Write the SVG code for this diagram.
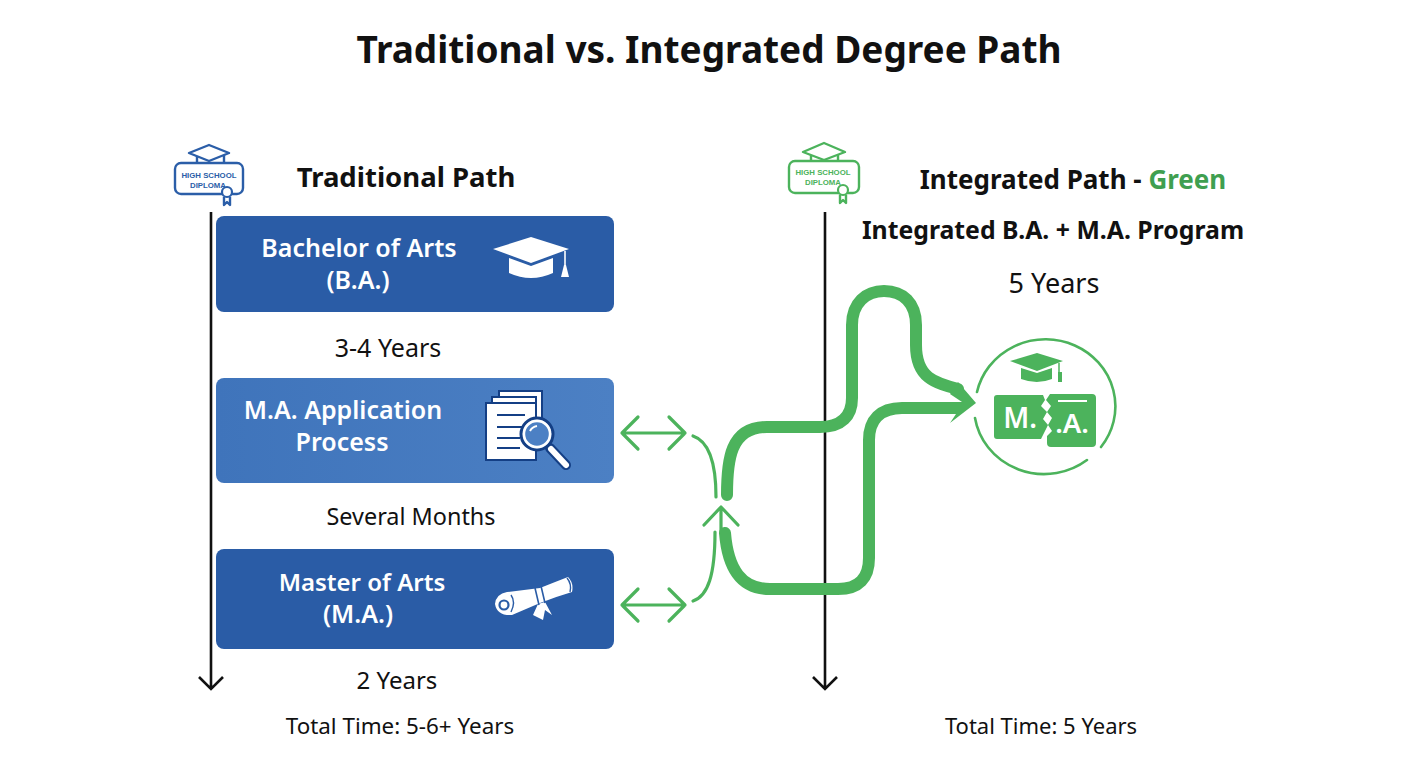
<svg xmlns="http://www.w3.org/2000/svg" width="1408" height="768" viewBox="0 0 1408 768">
<style>
text{font-family:"Noto Sans","Liberation Sans",sans-serif;fill:#111;text-anchor:middle}
.h{font-weight:700}
.w{fill:#fff;font-weight:600;font-size:25px}
.y{font-size:25px}
.t{font-size:22px}
.ax{fill:none;stroke:#111;stroke-width:2.6}
.g{fill:none;stroke:#4cb35c;stroke-linecap:round;stroke-linejoin:round}
.big{stroke-width:12}
.thin{stroke-width:3.2}
.ic{fill:none;stroke:#2b5ea8;stroke-width:2.4;stroke-linejoin:round}
.ig{fill:none;stroke:#4cb35c;stroke-width:2.4;stroke-linejoin:round}
.dt{font-family:"Liberation Sans",Arial,sans-serif;font-size:7.8px;font-weight:700}
</style>
<defs>
<linearGradient id="b2" x1="0" x2="1" y1="0" y2="0"><stop offset="0" stop-color="#3f74bb"/><stop offset="1" stop-color="#4c80c4"/></linearGradient>
</defs>
<rect width="1408" height="768" fill="#fff"/>
<text id="title" class="h" x="709" y="63" font-size="37">Traditional vs. Integrated Degree Path</text>

<g id="connectors">
<path class="ax" d="M211 212V689M199 677L211 689L223 677"/>
<path class="ax" d="M825 212V689M813 677L825 689L837 677"/>
<path class="g thin" d="M622 433H685M638 417L622 433L638 449M669 417L685 433L669 449"/>
<path class="g thin" d="M622 605H685M638 589L622 605L638 621M669 589L685 605L669 621"/>
<path class="g thin" d="M693 436C708 441 716 460 716 497"/>
<path class="g thin" d="M693 601C708 596 715 575 715 532"/>
<path class="g thin" d="M721 532V507M704 525L721 507L738 525"/>
<path class="g big" d="M727 495C727 460 730 427 767 427H820C842 427 852 416 852 398V325C852 303 866 291 884 291C903 291 916 303 916 325V345C916 378 935 383 958 389"/>
<path class="g big" stroke-linecap="butt" d="M725 533C728 570 742 589 770 589H838C859 589 869 578 869 558V440C869 420 880 408 902 408H958"/>
<path d="M950 423L976 403L958 382L950 394L962 402H955V414H956Z" fill="#4cb35c"/>
</g>

<g id="ba">
<rect x="216" y="216" width="398" height="96" rx="8" fill="#2a5ca6"/>
<text class="w" x="359" y="257">Bachelor of Arts</text>
<text class="w" x="358" y="289">(B.A.)</text>
<path d="M493 249L531 237L569 249L531 263Z" fill="#fff"/>
<path d="M509 258L531 266L553 258V273Q531 283 509 273Z" fill="#fff"/>
<path d="M565 251V268" stroke="#fff" stroke-width="1.6"/>
<path d="M561 277L564 265H566L569 277Z" fill="#fff"/>
</g>
<text id="d1" class="y" x="388" y="357">3-4 Years</text>

<g id="app">
<rect x="216" y="378" width="398" height="105" rx="8" fill="url(#b2)"/>
<text class="w" x="343" y="419">M.A. Application</text>
<text class="w" x="342" y="451">Process</text>
<g stroke="#143f85" stroke-width="2" fill="#fff">
<rect x="499" y="391" width="43" height="56"/>
<rect x="492" y="397" width="44" height="58"/>
<rect x="486" y="403" width="50" height="57"/>
</g>
<path d="M497 415H525M497 427H522M497 438H520M497 448H520" stroke="#143f85" stroke-width="2"/>
<path d="M550 448L566 465" stroke="#143f85" stroke-width="10" stroke-linecap="round"/>
<path d="M551 449L566 465" stroke="#fff" stroke-width="6" stroke-linecap="round"/>
<circle cx="537" cy="434" r="16" fill="#dfeaf6" stroke="#143f85" stroke-width="3"/>
<circle cx="537" cy="434" r="13" fill="#4c80c4" stroke="#fff" stroke-width="2.4"/>
<path d="M530 431Q532 427 537 426" stroke="#fff" stroke-width="2" fill="none"/>
</g>
<text id="d2" class="y" style="font-size:23.4px" x="411" y="525">Several Months</text>

<g id="ma">
<rect x="216" y="549" width="398" height="100" rx="8" fill="#2a5ca6"/>
<text class="w" style="font-size:24px" x="362" y="591">Master of Arts</text>
<text class="w" x="358" y="623">(M.A.)</text>
<path d="M495 604Q496 594 507 592L540 588Q555 582 568 577Q574 583 572 592Q555 597 540 603L512 615Q497 616 495 604Z" fill="#fff"/>
<path d="M538 604L533 615L543 620L545 610L552 615L545 602Z" fill="#fff"/>
<path d="M535 588L539 605M541 586L545 603" stroke="#2a5ca6" stroke-width="1.6" fill="none"/>
<circle cx="504" cy="605" r="4.5" fill="none" stroke="#2a5ca6" stroke-width="2.2"/>
<path d="M511 595Q516 602 511 612" stroke="#2a5ca6" fill="none" stroke-width="1.4"/>
<path d="M567 578Q572 584 570 592" stroke="#2a5ca6" fill="none" stroke-width="1.4"/>
</g>
<text id="d3" class="y" style="font-size:24px" x="397" y="689">2 Years</text>
<text id="t1" class="t" style="font-size:22.4px" x="400" y="734">Total Time: 5-6+ Years</text>

<g id="diploma-left">
<path class="ic" d="M189 153L209 145L229 153L209 161Z"/>
<path class="ic" d="M197 156V163M224 155V163"/>
<rect class="ic" x="175" y="163" width="68" height="31" rx="6"/>
<text class="dt" x="209" y="178" style="fill:#2b5ea8">HIGH SCHOOL</text>
<text class="dt" x="208" y="187.500" style="fill:#2b5ea8">DIPLOMA</text>
<circle cx="227" cy="192" r="5" fill="#fff" stroke="#2b5ea8" stroke-width="2.2"/>
<path class="ic" d="M224 197V205L227 202L230 205V197"/>
</g>
<text id="h1" class="h" x="406" y="187" font-size="27.5">Traditional Path</text>

<g id="diploma-right">
<path class="ig" d="M803 152L824 143L845 152L824 160Z"/>
<path class="ig" d="M811 155V161M838 155V161"/>
<rect class="ig" x="789" y="161" width="70" height="32" rx="6"/>
<text class="dt" x="823" y="175" style="fill:#4cb35c">HIGH SCHOOL</text>
<text class="dt" x="823" y="184.500" style="fill:#4cb35c">DIPLOMA</text>
<circle cx="843" cy="190" r="5" fill="#fff" stroke="#4cb35c" stroke-width="2.2"/>
<path class="ig" d="M840 195V203L843 200L846 203V195"/>
</g>
<text id="h2" class="h" x="1073" y="189" font-size="26">Integrated Path - <tspan style="fill:#3f9f50">Green</tspan></text>
<text id="h3" class="h" x="1053" y="239" font-size="24.800">Integrated B.A. + M.A. Program</text>
<text id="d4" x="1054" y="293" font-size="27">5 Years</text>
<text id="t2" class="t" x="1041" y="734">Total Time: 5 Years</text>

<g id="ma-badge">
<path class="g" stroke-width="2.6" stroke-linecap="butt" d="M977 392A70 67 0 1 1 1101 447M1087 460A70 67 0 0 1 975 418"/>
<path d="M1010 361L1037 353L1063 361L1037 371Z" fill="#4cb35c"/>
<path d="M1021 368L1037 373L1052 368V379Q1037 385 1021 379Z" fill="#4cb35c"/>
<path d="M1059 363V376" stroke="#4cb35c" stroke-width="1.5"/>
<path d="M1058 382V372H1062V382Z" fill="#4cb35c"/>
<path d="M997 395H1043L1045 400L1041 406L1047 412L1043 419L1048 425L1045 431L1041 439H997Q994 439 994 436V398Q994 395 997 395Z" fill="#4cb35c"/>
<path d="M1050 394H1092Q1096 394 1096 398V443Q1096 447 1092 447H1051Q1047 447 1047 443V436L1052 431L1048 425L1052 418L1047 412L1051 406L1046 400Z" fill="#4cb35c"/>
<path d="M1058 401H1087" stroke="#fff" stroke-width="2"/>
<text x="1020" y="428" font-size="28" style="fill:#fff;font-weight:600">M.</text>
<text x="1072" y="433" font-size="27.500" style="fill:#fff;font-weight:600">.A.</text>
</g>
</svg>
